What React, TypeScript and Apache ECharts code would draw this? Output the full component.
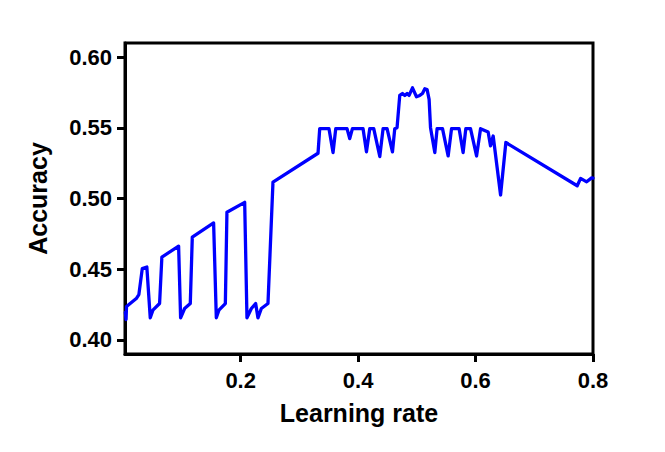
import React, { useEffect, useRef } from "react";
import * as echarts from "echarts";

const learningRate: number[] = [
  0.0036, 0.0048, 0.0056, 0.0222, 0.0266, 0.0324, 0.0402, 0.046, 0.0505, 0.0619,
  0.0658, 0.0943, 0.0977, 0.1045, 0.1142, 0.1176, 0.1539, 0.1585, 0.1629, 0.1739,
  0.1766, 0.2068, 0.2107, 0.2182, 0.2255, 0.2294, 0.2352, 0.2465, 0.255, 0.3317,
  0.3346, 0.3504, 0.3573, 0.3619, 0.3811, 0.3857, 0.3903, 0.4084, 0.4142, 0.4198,
  0.4266, 0.4369, 0.4425, 0.4493, 0.4585, 0.4624, 0.4663, 0.4709, 0.4755, 0.4795,
  0.4834, 0.4868, 0.4926, 0.4994, 0.505, 0.5096, 0.5136, 0.5175, 0.5209, 0.5233,
  0.5306, 0.5345, 0.5437, 0.5533, 0.5591, 0.572, 0.5788, 0.5834, 0.5914, 0.6017,
  0.6085, 0.6214, 0.6255, 0.63, 0.6426, 0.6516, 0.7731, 0.7789, 0.7892, 0.7977, 0.8,
];

const accuracy: number[] = [
  0.4194, 0.4144, 0.4236, 0.4292, 0.432, 0.4504, 0.4515, 0.4156, 0.421, 0.4257,
  0.4586, 0.4663, 0.4156, 0.4222, 0.4257, 0.4727, 0.4827, 0.4156, 0.421, 0.4257,
  0.4903, 0.4973, 0.4156, 0.4222, 0.4257, 0.4156, 0.4222, 0.4257, 0.5116, 0.532,
  0.5494, 0.5494, 0.5325, 0.5494, 0.5494, 0.5424, 0.5494, 0.5494, 0.533, 0.5494,
  0.5494, 0.5297, 0.5494, 0.5494, 0.533, 0.5494, 0.5501, 0.5729, 0.5743, 0.5729,
  0.5743, 0.5729, 0.5783, 0.572, 0.5729, 0.5743, 0.5776, 0.5771, 0.5701, 0.5501,
  0.5325, 0.5494, 0.5494, 0.5301, 0.5494, 0.5494, 0.5325, 0.5494, 0.5494, 0.5301,
  0.5494, 0.547, 0.5372, 0.5442, 0.5025, 0.5396, 0.509, 0.5142, 0.5118, 0.5146, 0.5144,
];

const xTicks: number[] = [0.2, 0.4, 0.6, 0.8];
const yTicks: number[] = [0.4, 0.45, 0.5, 0.55, 0.6];

const FONT = "'Liberation Sans', Arial, sans-serif";

export default function App() {
  const ref = useRef<HTMLDivElement>(null);

  useEffect(() => {
    if (!ref.current) return;
    const chart = echarts.init(ref.current, null, { renderer: "svg" });
    const data = learningRate.map((x, i) => [x, accuracy[i]]);
    const axisCommon = {
      axisLine: { show: true, onZero: false, lineStyle: { color: "#000", width: 3 } },
      axisTick: { show: true, length: 8, lineStyle: { color: "#000", width: 3 } },
      splitLine: { show: false },
      nameLocation: "middle" as const,
      nameTextStyle: { color: "#000", fontFamily: FONT, fontWeight: "bold" as const, fontSize: 25 },
    };
    chart.setOption({
      animation: false,
      backgroundColor: "#fff",
      grid: { left: 125, top: 43, right: 72, bottom: 98, show: true, borderColor: "#000", borderWidth: 3, backgroundColor: "transparent" },
      xAxis: {
        ...axisCommon,
        type: "value",
        min: 0.003,
        max: 0.8,
        name: "Learning rate",
        nameGap: 46,
        axisTick: { ...axisCommon.axisTick, customValues: xTicks },
        axisLabel: {
          customValues: xTicks,
          color: "#000",
          fontFamily: FONT,
          fontWeight: "bold",
          fontSize: 22,
          margin: 15,
          formatter: (v: number) => v.toFixed(1),
        },
      },
      yAxis: {
        ...axisCommon,
        type: "value",
        min: 0.39,
        max: 0.61,
        name: "Accuracy",
        nameGap: 75,
        axisTick: { ...axisCommon.axisTick, customValues: yTicks },
        axisLabel: {
          customValues: yTicks,
          color: "#000",
          fontFamily: FONT,
          fontWeight: "bold",
          fontSize: 22,
          margin: 13,
          formatter: (v: number) => v.toFixed(2),
        },
      },
      series: [
        {
          type: "line",
          data,
          showSymbol: false,
          symbol: "none",
          clip: true,
          lineStyle: { color: "#0000ff", width: 3.3, join: "round", cap: "round" },
        },
      ],
    });
    return () => chart.dispose();
  }, []);

  return <div ref={ref} style={{ width: 665, height: 452, position: "absolute", left: 0, top: 0 }} />;
}
